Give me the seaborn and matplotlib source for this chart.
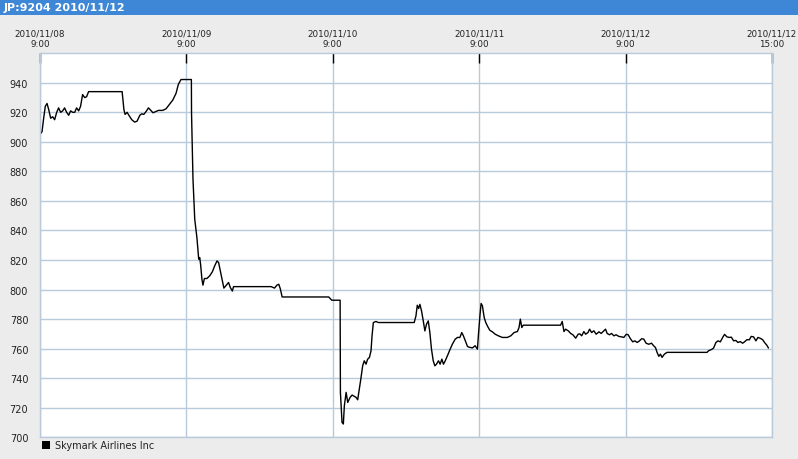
import matplotlib
matplotlib.use("Agg")
import matplotlib.pyplot as plt
from matplotlib.patches import Rectangle
import seaborn as sns
import pandas as pd

# position in trading sessions (0 = 2010/11/08 9:00, each session 9:00-15:00)
t = [0.000, 0.014, 0.025, 0.036, 0.048, 0.059, 0.073, 0.087, 0.100, 0.114,
     0.127, 0.141, 0.155, 0.168, 0.182, 0.196, 0.209, 0.223, 0.237, 0.250,
     0.264, 0.277, 0.291, 0.305, 0.318, 0.332, 0.561, 0.573, 0.581, 0.595,
     0.611, 0.627, 0.646, 0.663, 0.682, 0.695, 0.709, 0.725, 0.741, 0.755,
     0.772, 0.793, 0.809, 0.838, 0.861, 0.884, 0.907, 0.929, 0.945, 0.963,
     1.034, 1.035, 1.045, 1.057, 1.072, 1.084, 1.091, 1.097, 1.106, 1.113,
     1.123, 1.140, 1.159, 1.177, 1.193, 1.209, 1.220, 1.239, 1.256, 1.273,
     1.288, 1.300, 1.314, 1.322, 1.579, 1.602, 1.618, 1.631, 1.641, 1.654,
     1.972, 1.993, 2.050, 2.052, 2.063, 2.072, 2.079, 2.091, 2.102, 2.118,
     2.132, 2.147, 2.159, 2.170, 2.181, 2.193, 2.204, 2.215, 2.227, 2.238,
     2.250, 2.261, 2.268, 2.277, 2.295, 2.311, 2.556, 2.568, 2.577, 2.586,
     2.595, 2.606, 2.618, 2.629, 2.640, 2.652, 2.663, 2.674, 2.686, 2.697,
     2.708, 2.722, 2.733, 2.745, 2.756, 2.768, 2.783, 2.800, 2.817, 2.836,
     2.851, 2.868, 2.881, 2.892, 2.909, 2.920, 2.931, 2.954, 2.972, 2.988,
     2.995, 3.006, 3.013, 3.022, 3.034, 3.045, 3.056, 3.072, 3.090, 3.109,
     3.131, 3.158, 3.192, 3.216, 3.238, 3.261, 3.272, 3.281, 3.291, 3.301,
     3.556, 3.567, 3.579, 3.590, 3.608, 3.625, 3.640, 3.659, 3.676, 3.688,
     3.700, 3.715, 3.727, 3.743, 3.754, 3.768, 3.783, 3.799, 3.818, 3.833,
     3.852, 3.863, 3.874, 3.890, 3.904, 3.920, 3.935, 3.954, 3.972, 3.988,
     4.004, 4.017, 4.033, 4.049, 4.063, 4.079, 4.095, 4.109, 4.124, 4.140,
     4.158, 4.177, 4.192, 4.204, 4.215, 4.227, 4.238, 4.249, 4.265, 4.283,
     4.556, 4.567, 4.586, 4.601, 4.617, 4.631, 4.647, 4.663, 4.676, 4.692,
     4.708, 4.722, 4.738, 4.753, 4.767, 4.783, 4.799, 4.811, 4.829, 4.845,
     4.858, 4.874, 4.890, 4.904, 4.920, 4.936, 4.949, 4.965, 4.976]

price = [905, 907, 916, 924, 926, 922, 916, 917, 915, 920,
         923, 920, 921, 923, 920, 918, 921, 920, 920, 923,
         921, 924, 932, 930, 930.5, 934, 934, 922, 918.6, 920,
         917.4, 915, 913.4, 914, 918, 919, 918.6, 920.6, 923, 921.5,
         919.7, 920.6, 921.3, 921.3, 922.4, 925.3, 928.3, 932.8, 938.9, 942.2,
         942.2, 919.7, 874.6, 847.6, 835, 820.6, 821.7, 817, 807, 803,
         807.5, 807.5, 809.3, 812, 816, 819.4, 818.3, 809.3, 801, 803,
         804.8, 801.4, 799, 802, 802, 801, 803, 803.6, 800.7, 795,
         795, 792.8, 792.8, 730.4, 710.1, 709, 721.4, 730.4, 723.6, 727,
         728.6, 727.7, 727, 725.4, 732.6, 740.5, 748.4, 751.8, 749.5, 752.9,
         754, 758.5, 768.7, 777.7, 778.4, 777.7, 777.7, 782.2, 789.4, 787.2,
         790, 785.6, 778.8, 772, 776.6, 778.8, 770.9, 759.7, 751.8, 748.4,
         749.5, 751.8, 749.5, 752.9, 749.5, 751.8, 755.2, 759.3, 763.1, 766.4,
         767.6, 767.6, 770.9, 768.7, 764.2, 761.5, 761, 760.5, 762, 759.7,
         769.8, 783.5, 790.6, 789, 781.1, 777.7, 775.4, 772.5, 771.4, 769.8,
         768.7, 767.6, 767.6, 768.7, 770.9, 771.6, 774.3, 780, 774.3, 775.9,
         775.9, 778.4, 771.6, 773.2, 772.1, 770.3, 769.4, 767.1, 769.8, 770,
         768.7, 771.6, 769.8, 770.9, 773.2, 770.9, 772.1, 769.8, 771.4, 770.3,
         772.1, 773.2, 770.3, 769.4, 770.3, 768.7, 769.4, 768.3, 768, 767.6,
         769.7, 769.5, 766.7, 764.6, 765.3, 764.2, 765.3, 766.7, 766.5, 763.7,
         763, 763.7, 761.9, 760.8, 757.5, 754.8, 756.3, 754.1, 756.3, 757.5,
         757.5, 758.6, 759.4, 760.4, 764.2, 765.3, 764.6, 767.6, 769.7, 768,
         767.6, 767.8, 765.3, 765.6, 764.2, 764.8, 763.7, 764.5, 766.1, 766,
         768.3, 768, 765.3, 767.6, 767, 766.1, 764.2, 762.3, 760.4]

tick_pos = [0, 1, 2, 3, 4, 5]
tick_labels = ["2010/11/08\n9:00", "2010/11/09\n9:00", "2010/11/10\n9:00",
               "2010/11/11\n9:00", "2010/11/12\n9:00", "2010/11/12\n15:00"]
y_ticks = list(range(700, 941, 20))

title = "JP:9204 2010/11/12"
series_name = "Skymark Airlines Inc"

df = pd.DataFrame({"t": t, "price": price})

sns.set_style("white")
plt.rcParams["font.family"] = ["DejaVu Sans"]

fig = plt.figure(figsize=(7.98, 4.60), dpi=100, facecolor="#ececec")
ax = fig.add_axes([40 / 798, 1 - 438.3 / 460, 732 / 798, (438.3 - 53.5) / 460])
ax.set_facecolor("white")

grid_c = "#b9cadb"
for v in y_ticks:
    ax.axhline(v, color=grid_c, lw=1, zorder=0)
for p in tick_pos:
    ax.axvline(p, color=grid_c, lw=1, zorder=0)

sns.lineplot(data=df, x="t", y="price", ax=ax, color="black", lw=1,
             estimator=None, sort=False, legend=False)

ax.set_xlim(0, 5)
ax.set_ylim(700, 960.5)
ax.set_xticks(tick_pos)
ax.set_xticklabels(tick_labels, fontsize=6.3, color="#222222", linespacing=1.3)
ax.set_yticks(y_ticks)
ax.set_yticklabels([str(v) for v in y_ticks], fontsize=7, color="#222222")
ax.tick_params(axis="x", top=True, labeltop=True, bottom=False, labelbottom=False,
               direction="in", length=7, width=1, color="black", pad=3)
ax.tick_params(axis="y", left=False, pad=5)
ax.set_xlabel("")
ax.set_ylabel("")
for s in ax.spines.values():
    s.set_color(grid_c)
    s.set_linewidth(1)

# title bar
fig.patches.append(Rectangle((0, 1 - 16 / 460), 1, 16 / 460, transform=fig.transFigure,
                             facecolor="#3d87d6", edgecolor="none", zorder=0))
fig.text(4 / 798, 1 - 8 / 460, title, color="white", fontsize=8, fontweight="bold",
         va="center", ha="left")

# legend
fig.patches.append(Rectangle((42 / 798, 1 - 450 / 460), 8 / 798, 8 / 460,
                             transform=fig.transFigure, facecolor="black",
                             edgecolor="none"))
fig.text(55 / 798, 1 - 446 / 460, series_name, fontsize=7, color="#222222",
         va="center", ha="left")

fig.savefig("out.png", dpi=100, facecolor=fig.get_facecolor())
